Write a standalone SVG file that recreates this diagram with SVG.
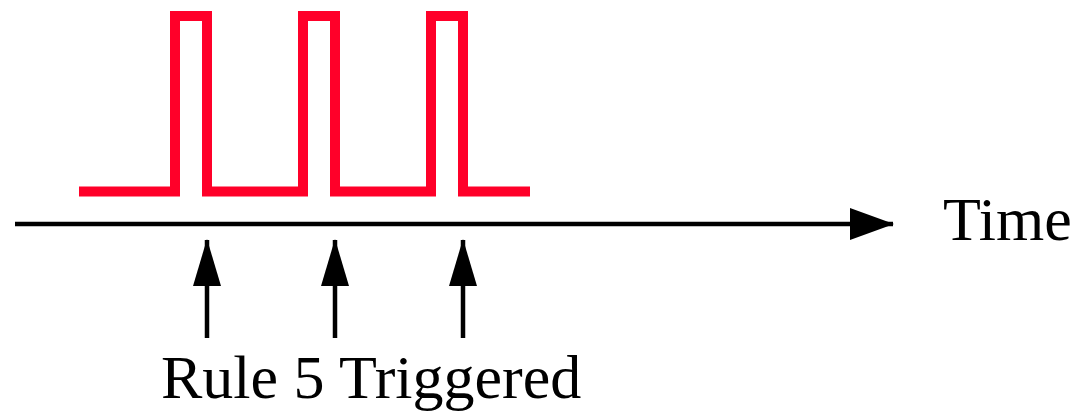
<svg xmlns="http://www.w3.org/2000/svg" width="1080" height="413" viewBox="0 0 1080 413">
<style>
.sig{fill:none;stroke:#FF0029;stroke-width:10;stroke-linejoin:miter}
.ax{fill:none;stroke:#000;stroke-width:4.5}
.lbl{font-family:"Liberation Serif","Times New Roman",serif;font-size:62px;fill:#000}
</style>
<defs>
<marker id="ah" markerUnits="userSpaceOnUse" markerWidth="44" markerHeight="32" refX="43" refY="16" orient="auto">
<path d="M0,0 L44,16 L0,32 Z" fill="#000"/>
</marker>
<marker id="ahs" markerUnits="userSpaceOnUse" markerWidth="47" markerHeight="28" refX="46" refY="14" orient="auto">
<path d="M0,0 L47,14 L0,28 Z" fill="#000"/>
</marker>
</defs>
<g id="signal">
<polyline class="sig" points="79,191.5 175,191.5 175,16 207,16 207,191.5 303,191.5 303,16 335,16 335,191.5 431,191.5 431,16 463,16 463,191.5 530,191.5"/>
</g>
<g id="connectors">
<line class="ax" x1="15" y1="224" x2="893" y2="224" marker-end="url(#ah)"/>
<line class="ax" x1="207" y1="338" x2="207" y2="240" marker-end="url(#ahs)"/>
<line class="ax" x1="335" y1="338" x2="335" y2="240" marker-end="url(#ahs)"/>
<line class="ax" x1="463" y1="338" x2="463" y2="240" marker-end="url(#ahs)"/>
</g>
<g id="time-label">
<text class="lbl" x="943" y="240">Time</text>
</g>
<g id="rule-label">
<text class="lbl" x="161" y="398">Rule 5 Triggered</text>
</g>
</svg>
